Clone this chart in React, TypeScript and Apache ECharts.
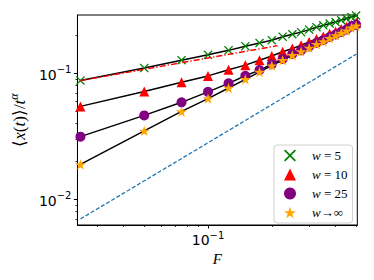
import React, { useEffect, useRef } from "react";
import * as echarts from "echarts";

// ---- data ----
const forceF = [0.025, 0.05, 0.075, 0.1, 0.125, 0.15, 0.175, 0.2, 0.225, 0.25, 0.275, 0.3, 0.325, 0.35, 0.375, 0.4, 0.425, 0.45, 0.475, 0.5];
const w5 = [0.0875, 0.11, 0.127, 0.14, 0.152, 0.164, 0.174, 0.183, 0.195, 0.204, 0.212, 0.222, 0.232, 0.24, 0.248, 0.255, 0.264, 0.272, 0.28, 0.287];
const w10 = [0.0546, 0.0718, 0.0848, 0.0953, 0.1065, 0.116, 0.127, 0.137, 0.148, 0.157, 0.167, 0.177, 0.187, 0.196, 0.206, 0.215, 0.225, 0.234, 0.243, 0.252];
const w25 = [0.0314, 0.0463, 0.0588, 0.0712, 0.0832, 0.0955, 0.106, 0.118, 0.13, 0.142, 0.152, 0.163, 0.174, 0.183, 0.194, 0.203, 0.213, 0.222, 0.235, 0.243];
const wInf = [0.0189, 0.0349, 0.0498, 0.063, 0.0764, 0.0895, 0.1025, 0.115, 0.127, 0.139, 0.149, 0.159, 0.17, 0.179, 0.19, 0.199, 0.209, 0.218, 0.23, 0.238];
const dashDotF = [0.025, 0.213];
const dashDotY = [0.0874, 0.1656];
const linearF = [0.025, 0.5];
const linearY = [0.00698, 0.1415];
const seriesNames = ["w=5", "w=10", "w=25", "w→∞"];
const xMajor = [0.1];
const xMinor = [0.03, 0.04, 0.05, 0.06, 0.07, 0.08, 0.09, 0.2, 0.3, 0.4, 0.5];
const yMajor = [0.01, 0.1];
const yMinor = [0.007, 0.008, 0.009, 0.02, 0.03, 0.04, 0.05, 0.06, 0.07, 0.08, 0.09, 0.2];
const xRange = [0.0242, 0.5064];
const yRange = [0.00625, 0.29];

const pairs = (xs: number[], ys: number[]) => xs.map((x, i) => [x, ys[i]]);

function starPath() {
  const pts: string[] = [];
  for (let i = 0; i < 10; i++) {
    const a = -Math.PI / 2 + (i * Math.PI) / 5;
    const r = i % 2 === 0 ? 1 : 0.381966;
    pts.push(`${(r * Math.cos(a)).toFixed(4)},${(r * Math.sin(a)).toFixed(4)}`);
  }
  return "path://M" + pts.join("L") + "Z";
}
const crossPath = "path://M0,1L1,0L5,4L9,0L10,1L6,5L10,9L9,10L5,6L1,10L0,9L4,5Z";

const MATH = "Liberation Serif";
const SANS = "DejaVu Sans";

const tickFormatter = (v: number) => {
  const e = Math.round(Math.log10(v));
  return `{b|10}{s|${e < 0 ? "\u2212" : ""}${Math.abs(e)}}`;
};
const tickRich = {
  b: { fontFamily: SANS, fontSize: 14, color: "#000", lineHeight: 17, verticalAlign: "bottom" },
  s: { fontFamily: SANS, fontSize: 10, color: "#000", lineHeight: 17, verticalAlign: "top" },
};

export default function App() {
  const ref = useRef<HTMLDivElement>(null);
  useEffect(() => {
    if (!ref.current) return;
    const chart = echarts.init(ref.current, null, { renderer: "svg" });
    const lineBase = (data: number[][]) => ({
      type: "line",
      data,
      showSymbol: false,
      symbol: "none",
      silent: true,
      z: 2,
      lineStyle: { color: "#000", width: 1.5 },
    });
    const scatterBase = (name: string, ys: number[], symbol: string, size: number, color: string) => ({
      type: "scatter",
      name,
      data: pairs(forceF, ys),
      symbol,
      symbolSize: size,
      symbolKeepAspect: true,
      itemStyle: { color, opacity: 1 },
      z: 4,
    });
    const option: any = {
      animation: false,
      backgroundColor: "#fff",
      grid: {
        left: 76.5,
        right: 16.7,
        top: 15,
        bottom: 55,
        show: true,
        borderColor: "#000",
        borderWidth: 1,
        backgroundColor: "transparent",
      },
      legend: {
        data: seriesNames,
        orient: "vertical",
        left: 274,
        top: 145,
        itemWidth: 12,
        itemHeight: 12,
        itemGap: 6,
        padding: [4, 5, 4, 10],
        borderColor: "#d0d0d0",
        borderWidth: 1,
        borderRadius: 3,
        backgroundColor: "rgba(255,255,255,0.85)",
        selectedMode: false,
        formatter: (name: string) =>
          name === "w→∞" ? `{g| }{i|w}{n|→∞}` : `{g| }{i|w}{n| = ${name.split("=")[1]}}`,
        textStyle: {
          rich: {
            g: { width: 11, lineHeight: 12 },
            i: { fontFamily: MATH, fontStyle: "italic", fontSize: 13, color: "#000", lineHeight: 12 },
            n: { fontFamily: MATH, fontSize: 13, color: "#000", lineHeight: 12 },
          },
        },
      },
      xAxis: [
        {
          type: "log",
          min: xRange[0],
          max: xRange[1],
          position: "bottom",
          name: "F",
          nameLocation: "middle",
          nameGap: 20,
          nameTextStyle: { fontFamily: MATH, fontStyle: "italic", fontSize: 15, color: "#000" },
          axisLine: { show: true, onZero: false, lineStyle: { color: "#000", width: 1 } },
          axisTick: { show: true, customValues: xMajor, length: 3.5, lineStyle: { color: "#000", width: 1 } },
          axisLabel: { customValues: xMajor, formatter: tickFormatter, rich: tickRich, margin: 5 },
          splitLine: { show: false },
          minorTick: { show: false },
        },
        {
          type: "log",
          min: xRange[0],
          max: xRange[1],
          position: "bottom",
          axisLine: { show: false, onZero: false },
          axisTick: { show: true, customValues: xMinor, length: 2, lineStyle: { color: "#000", width: 0.8 } },
          axisLabel: { show: false },
          splitLine: { show: false },
        },
      ],
      yAxis: [
        {
          type: "log",
          min: yRange[0],
          max: yRange[1],
          position: "left",
          name: "{n|⟨}{i|x}{n|(}{i|t}{n|)⟩/}{i|t}{s|α}",
          nameLocation: "middle",
          nameRotate: 90,
          nameGap: 41,
          nameTextStyle: {
            rich: {
              n: { fontFamily: MATH, fontSize: 17, color: "#000", lineHeight: 20, verticalAlign: "bottom" },
              i: { fontFamily: MATH, fontStyle: "italic", fontSize: 17, color: "#000", lineHeight: 20, verticalAlign: "bottom" },
              s: { fontFamily: MATH, fontStyle: "italic", fontSize: 12, color: "#000", lineHeight: 20, verticalAlign: "top" },
            },
          },
          axisLine: { show: true, onZero: false, lineStyle: { color: "#000", width: 1 } },
          axisTick: { show: true, customValues: yMajor, length: 3.5, lineStyle: { color: "#000", width: 1 } },
          axisLabel: { customValues: yMajor, formatter: tickFormatter, rich: tickRich, margin: 6 },
          splitLine: { show: false },
        },
        {
          type: "log",
          min: yRange[0],
          max: yRange[1],
          position: "left",
          axisLine: { show: false, onZero: false },
          axisTick: { show: true, customValues: yMinor, length: 2, lineStyle: { color: "#000", width: 0.8 } },
          axisLabel: { show: false },
          splitLine: { show: false },
        },
      ],
      series: [
        {
          ...lineBase(pairs(linearF, linearY)),
          lineStyle: { color: "#1f77b4", width: 1.3, type: [4, 2] },
        },
        lineBase(pairs(forceF, w5)),
        lineBase(pairs(forceF, w10)),
        lineBase(pairs(forceF, w25)),
        lineBase(pairs(forceF, wInf)),
        scatterBase(seriesNames[0], w5, crossPath, 9, "#008000"),
        scatterBase(seriesNames[1], w10, "triangle", 10, "#ff0000"),
        scatterBase(seriesNames[2], w25, "circle", 10, "#800080"),
        scatterBase(seriesNames[3], wInf, starPath(), 11, "#ffa500"),
        {
          ...lineBase(pairs(dashDotF, dashDotY)),
          z: 5,
          lineStyle: { color: "#ff0000", width: 1.4, type: [6, 2, 1.5, 2] },
        },
      ],
    };
    chart.setOption(option);
    return () => chart.dispose();
  }, []);
  return (
    <div
      ref={ref}
      style={{ position: "fixed", left: 0, top: 0, width: 374, height: 280, background: "#fff" }}
    />
  );
}
